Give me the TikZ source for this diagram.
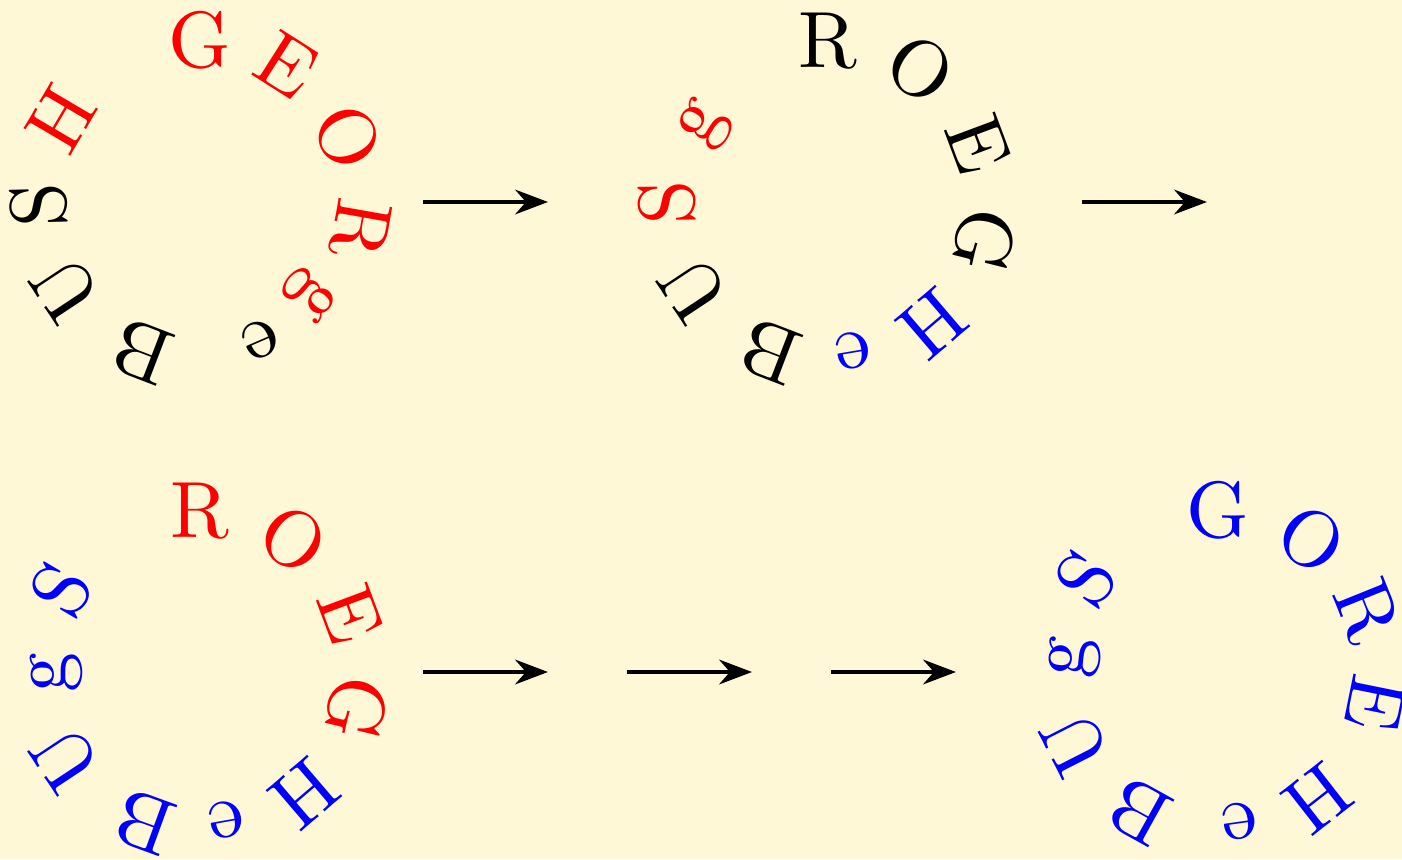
\documentclass[tikz,border=0pt]{standalone}
\usetikzlibrary{arrows.meta}
\definecolor{paper}{RGB}{254,248,215}
\newcommand\lettr[1]{\scalebox{2.27}{#1}}
\tikzset{
  ltr/.style={anchor=base, inner sep=0pt, font=\fontsize{10}{12}\selectfont},
  move/.style={-Stealth, line width=1.4pt}
}
\begin{document}
\begin{tikzpicture}
\fill[paper] (0,0) rectangle (14.02,8.59);
\useasboundingbox (0,0) rectangle (14.02,8.59);

\begin{scope}[shift={(2.00,6.58)}]
\node[ltr,red,rotate=0] (aG) at (90:1.34) {\lettr{G}};
\node[ltr,red,rotate=-32.5] (aE) at (57.5:1.34) {\lettr{E}};
\node[ltr,red,rotate=-66.5] (aO) at (23.5:1.34) {\lettr{O}};
\node[ltr,red,rotate=-100] (aR) at (-10:1.36) {\lettr{R}};
\node[ltr,red,rotate=-130.5] (ag) at (-40.5:1.34) {\lettr{g}};
\node[ltr,rotate=-156.5] (ae) at (-66.5:1.34) {\lettr{e}};
\node[ltr,rotate=-201] (aB) at (-111:1.34) {\lettr{B}};
\node[ltr,rotate=-236.5] (aU) at (-146.5:1.34) {\lettr{U}};
\node[ltr,rotate=91.5] (aS) at (181.5:1.34) {\lettr{S}};
\node[ltr,red,rotate=59.5] (aH) at (149.5:1.34) {\lettr{H}};
\end{scope}

\begin{scope}[shift={(8.28,6.58)}]
\node[ltr,rotate=0] (bR) at (90:1.34) {\lettr{R}};
\node[ltr,rotate=-35] (bO) at (55:1.34) {\lettr{O}};
\node[ltr,rotate=-69.5] (bE) at (20.5:1.34) {\lettr{E}};
\node[ltr,rotate=-104] (bG) at (-14:1.34) {\lettr{G}};
\node[ltr,blue,rotate=-139.5] (bH) at (-49.5:1.34) {\lettr{H}};
\node[ltr,blue,rotate=-170.5] (be) at (-80.5:1.34) {\lettr{e}};
\node[ltr,rotate=-201] (bB) at (-111:1.34) {\lettr{B}};
\node[ltr,rotate=-236.5] (bU) at (-146.5:1.34) {\lettr{U}};
\node[ltr,red,rotate=90.5] (bS) at (180.5:1.34) {\lettr{S}};
\node[ltr,red,rotate=58.5] (bg) at (148.5:1.34) {\lettr{g}};
\end{scope}

\begin{scope}[shift={(2.00,1.88)}]
\node[ltr,red,rotate=0] (cR) at (90:1.34) {\lettr{R}};
\node[ltr,red,rotate=-35.5] (cO) at (54.5:1.34) {\lettr{O}};
\node[ltr,red,rotate=-69.5] (cE) at (20.5:1.34) {\lettr{E}};
\node[ltr,red,rotate=-103.5] (cG) at (-13.5:1.34) {\lettr{G}};
\node[ltr,blue,rotate=-139.5] (cH) at (-49.5:1.34) {\lettr{H}};
\node[ltr,blue,rotate=-170] (ce) at (-80:1.34) {\lettr{e}};
\node[ltr,blue,rotate=-200] (cB) at (-110:1.34) {\lettr{B}};
\node[ltr,blue,rotate=-236.5] (cU) at (-146.5:1.34) {\lettr{U}};
\node[ltr,blue,rotate=90.5] (cg) at (180.5:1.34) {\lettr{g}};
\node[ltr,blue,rotate=59.5] (cS) at (149.5:1.34) {\lettr{S}};
\end{scope}

\begin{scope}[shift={(12.18,1.88)}]
\node[ltr,blue,rotate=0] (dG) at (90:1.34) {\lettr{G}};
\node[ltr,blue,rotate=-35.5] (dO) at (54.5:1.34) {\lettr{O}};
\node[ltr,blue,rotate=-68] (dR) at (22:1.34) {\lettr{R}};
\node[ltr,blue,rotate=-101.5] (dE) at (-11.5:1.34) {\lettr{E}};
\node[ltr,blue,rotate=-142] (dH) at (-52:1.34) {\lettr{H}};
\node[ltr,blue,rotate=-172] (de) at (-82:1.34) {\lettr{e}};
\node[ltr,blue,rotate=-209] (dB) at (-119:1.34) {\lettr{B}};
\node[ltr,blue,rotate=-243] (dU) at (-153:1.34) {\lettr{U}};
\node[ltr,blue,rotate=84.5] (dg) at (174.5:1.34) {\lettr{g}};
\node[ltr,blue,rotate=55] (dS) at (145:1.34) {\lettr{S}};
\end{scope}

\coordinate (m1a) at (4.23,6.57);
\coordinate (m1b) at (5.48,6.57);
\coordinate (m2a) at (10.82,6.57);
\coordinate (m2b) at (12.07,6.57);
\coordinate (m3a) at (4.23,1.87);
\coordinate (m3b) at (5.48,1.87);
\coordinate (m4a) at (6.27,1.87);
\coordinate (m4b) at (7.52,1.87);
\coordinate (m5a) at (8.31,1.87);
\coordinate (m5b) at (9.56,1.87);
\draw[move] (m1a) -- (m1b);
\draw[move] (m2a) -- (m2b);
\draw[move] (m3a) -- (m3b);
\draw[move] (m4a) -- (m4b);
\draw[move] (m5a) -- (m5b);
\end{tikzpicture}
\end{document}
